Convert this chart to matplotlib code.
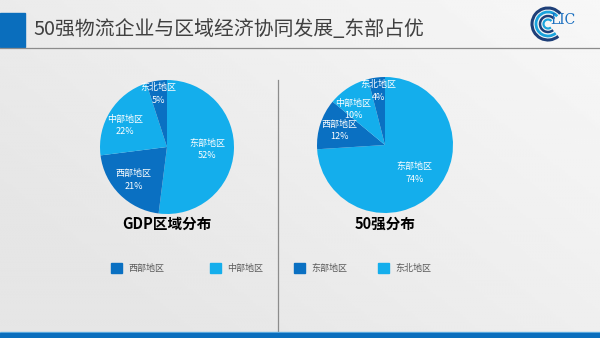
import matplotlib
matplotlib.use("Agg")
import matplotlib.pyplot as plt
import numpy as np
from matplotlib.patches import Rectangle, Arc

plt.rcParams['font.family'] = ['Noto Sans CJK SC', 'DejaVu Sans']

# data
title = "50强物流企业与区域经济协同发展_东部占优"
regions = ['东部地区', '西部地区', '中部地区', '东北地区']
gdp_share = [52, 21, 22, 5]
top50_share = [74, 12, 10, 4]
legend_names = ['西部地区', '中部地区', '东部地区', '东北地区']

LIGHT = '#14AEEC'
DARK = '#0A70C2'
slice_colors = [LIGHT, DARK, LIGHT, DARK]
legend_colors = [DARK, LIGHT, DARK, LIGHT]

W, H = 600, 338
fig = plt.figure(figsize=(6, 3.38), dpi=100)

# background in pixel coordinates
bg = fig.add_axes([0, 0, 1, 1])
bg.set_xlim(0, W)
bg.set_ylim(H, 0)
bg.axis('off')
gx, gy = np.meshgrid(np.linspace(0, 1, 200), np.linspace(0, 1, 120))
grad = 0.90 + 0.07 * np.clip(gx * 0.7 + (1 - gy) * 0.5 - 0.2, 0, 1)
bg.imshow(grad, cmap='gray', vmin=0, vmax=1, extent=[0, W, H, 0], aspect='auto', zorder=0)

# header
bg.add_patch(Rectangle((0, 13), 25, 34, color='#0A6EBD', zorder=2))
bg.plot([0, W], [47.5, 47.5], color='#8C8C8C', lw=0.9, zorder=2)
bg.text(33, 29, title, fontsize=14.3, color='#404040', va='center', ha='left', zorder=3)

# logo
for r, c, lw in [(16, '#1E3F78', 2.2), (12, '#1AA3DC', 2.0), (8, '#1E3F78', 1.8), (4.5, '#1AA3DC', 1.6)]:
    bg.add_patch(Arc((548, 24), 2 * r, 2 * r, theta1=50, theta2=320, color=c, lw=lw, zorder=3))
bg.text(550, 20, 'LIC', fontsize=10, family='DejaVu Serif', color='#1A6FC0', va='center', ha='left', zorder=4)

# divider and footer
bg.plot([277.5, 277.5], [80, 331], color='#8C8C8C', lw=0.9, zorder=2)
bg.add_patch(Rectangle((0, 332), W, 1.2, color='#6FB7E6', zorder=2))
bg.add_patch(Rectangle((0, 333.2), W, 5, color='#0A6EBD', zorder=2))


def draw_pie(cx, cy, r, values, subtitle, nudge=None):
    nudge = nudge or {}
    ax = fig.add_axes([(cx - r) / W, (H - cy - r) / H, 2 * r / W, 2 * r / H])
    wedges, _ = ax.pie(values, colors=slice_colors, startangle=90, counterclock=False,
                       radius=1, wedgeprops=dict(linewidth=0))
    ax.set_xlim(-1, 1)
    ax.set_ylim(-1, 1)
    ax.set_aspect('auto')
    ax.axis('off')
    for i, (w, name, v) in enumerate(zip(wedges, regions, values)):
        ang = np.deg2rad((w.theta1 + w.theta2) / 2 + nudge.get(i, 0))
        d = 0.6 if v > 50 else (0.8 if v < 10 else 0.7)
        xy = (d * np.cos(ang), d * np.sin(ang))
        ax.annotate(name, xy, xytext=(0, 4.5), textcoords='offset points', color='white',
                    fontsize=6.5, ha='center', va='center')
        ax.annotate(f"{v}%", xy, xytext=(0, -4.5), textcoords='offset points', color='white',
                    fontsize=6.5, ha='center', va='center')
    bg.text(cx, 224, subtitle, fontsize=10.5, fontweight='bold', color='black',
            ha='center', va='center', zorder=3)


draw_pie(167, 147, 67, gdp_share, 'GDP区域分布', nudge={2: 5})
draw_pie(385, 145, 68, top50_share, '50强分布', nudge={2: 9})

# legend
for x0, name, c in zip([111, 210, 294, 378], legend_names, legend_colors):
    bg.add_patch(Rectangle((x0, 263), 11, 10, color=c, zorder=3))
    bg.text(x0 + 17, 268, name, fontsize=6.5, color='#595959', va='center', ha='left', zorder=3)

fig.savefig('out.png', dpi=100)
